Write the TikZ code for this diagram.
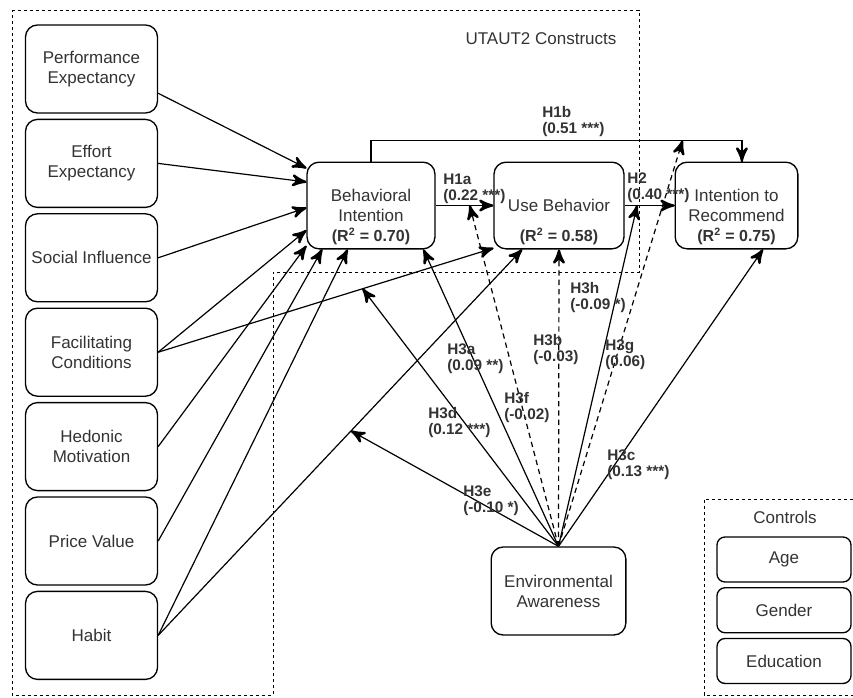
\documentclass[tikz,border=0pt]{standalone}
\usepackage{fontspec}
\setmainfont{Liberation Sans}
\usetikzlibrary{arrows}
\usetikzlibrary{decorations.markings}
\usetikzlibrary{positioning}
\tikzset{box/.style = {draw, fill=white, rounded corners=9pt, line width=1pt,
                       minimum width=99pt, minimum height=66pt, align=center,
                       text=black!80, font=\fontsize{12.75}{15}\selectfont},
         txt/.style = {text=black!80, font=\fontsize{12.75}{15}\selectfont},
         grp/.style = {draw, line width=0.7pt, dash pattern=on 2.5pt off 2pt},
         arr/.style = {line width=0.9pt,
                       decoration={markings,
                                   mark=at position 1 with {\arrow[scale=2]{stealth'}}},
                       postaction={decorate}},
         dsh/.style = {arr, dash pattern=on 4pt off 3pt},
         hyp/.style = {anchor=west, align=left, inner sep=0pt, text=black!80,
                       font=\bfseries\fontsize{11.5}{12}\selectfont},
         rsq/.style = {label={[anchor=south, text=black!80,
                               font=\bfseries\fontsize{12}{15}\selectfont]south:{(R\textsuperscript{2} = #1)}}}}

\begin{document}
\begin{tikzpicture}[x=0.75pt, y=-0.75pt]
    \useasboundingbox (0,0) rectangle (853,697);

    % groups
    \draw [grp] (12,10) -- (639,10) -- (639,272) -- (273,272) -- (273,695) -- (12,695) -- cycle;
    \node [txt] (utaut) at (541,39) {UTAUT2 Constructs};
    \draw [grp] (853,499) -| (704,695) -- (853,695);
    \node [txt] (ctrl) at (785,517) {Controls};

    % predictors
    \node [box] (pe) at (91.5,69) {Performance\\Expectancy};
    \node [box, below=3.8pt of pe] (ee) {Effort\\Expectancy};
    \node [box, below=3.8pt of ee] (si) {Social Influence};
    \node [box, below=3.8pt of si] (fc) {Facilitating\\Conditions};
    \node [box, below=3.8pt of fc] (hm) {Hedonic\\Motivation};
    \node [box, below=3.8pt of hm] (pv) {Price Value};
    \node [box, below=3.8pt of pv] (hb) {Habit};

    % outcomes
    \node [box, minimum width=96pt, minimum height=65pt, rsq=0.70] (bi) at (371,205.5) {Behavioral\\Intention};
    \node [box, minimum width=97.5pt, minimum height=65pt, rsq=0.58] (ub) at (559,205.5) {Use Behavior};
    \node [box, minimum width=92pt, minimum height=65pt, rsq=0.75] (itr) at (736.5,205.5) {Intention to\\Recommend};
    \node [box, minimum width=101pt] (ea) at (558.5,591) {Environmental\\Awareness};

    % controls
    \node [box, rounded corners=6pt, minimum width=100.5pt, minimum height=33.75pt] (age) at (784,559.5) {Age};
    \node [box, rounded corners=6pt, minimum width=100.5pt, minimum height=33.75pt, below=3.3pt of age] (gen) {Gender};
    \node [box, rounded corners=6pt, minimum width=100.5pt, minimum height=33.75pt, below=3.3pt of gen] (edu) {Education};

    % paths into behavioral intention
    \draw [arr] (pe.340) -- (bi.150);
    \draw [arr] (ee.east) -- (bi.160);
    \draw [arr] (si.east) -- (bi.182);
    \draw [arr] (fc.east) -- (bi.201);
    \draw [arr] (hm.east) -- (bi.212);
    \draw [arr] (pv.east) -- (bi.222);
    \draw [arr] (hb.east) -- (bi.242);

    % paths into use behavior
    \draw [arr] (fc.east) -- coordinate[pos=0.61] (m3d) (ub.213);
    \draw [arr] (hb.east) -- coordinate[pos=0.53] (m3e) (ub.230);
    \draw [arr] (bi.east) -- coordinate[pos=0.59] (m3f) (ub.west);
    \draw [arr] (ub.east) -- coordinate[pos=0.25] (m3g) (itr.west);
    \draw [arr] (bi.north) -- ++(0,-21) -| coordinate[pos=0.42] (m3h) (itr.83);

    % environmental awareness
    \foreach \t in {bi.320, itr.301, m3d, m3e, m3g}
        \draw [arr] (ea.north) -- (\t);
    \foreach \t in {ub.south, m3f, m3h}
        \draw [dsh] (ea.north) -- (\t);

    % hypotheses
    \node [hyp] (h1b) at (542,122) {H1b\\(0.51 ***)};
    \node [hyp] (h1a) at (443,189) {H1a\\(0.22 ***)};
    \node [hyp] (h2) at (627,188) {H2\\(0.40 ***)};
    \node [hyp] (h3a) at (447,359) {H3a\\(0.09 **)};
    \node [hyp] (h3b) at (533,350) {H3b\\(-0.03)};
    \node [hyp] (h3c) at (607,465) {H3c\\(0.13 ***)};
    \node [hyp] (h3d) at (428,423) {H3d\\(0.12 ***)};
    \node [hyp] (h3e) at (463,501) {H3e\\(-0.10 *)};
    \node [hyp] (h3f) at (504,408) {H3f\\(-0.02)};
    \node [hyp] (h3g) at (605,355) {H3g\\(0.06)};
    \node [hyp] (h3h) at (570,298) {H3h\\(-0.09 *)};
\end{tikzpicture}
\end{document}
